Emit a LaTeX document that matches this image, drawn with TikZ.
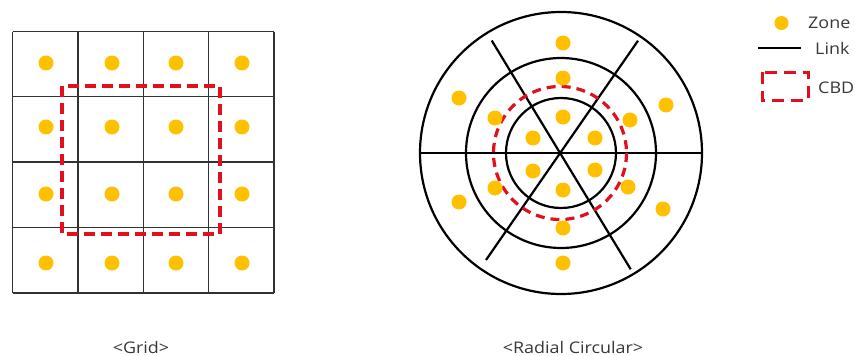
\documentclass[tikz,border=0pt]{standalone}
\usepackage{fontspec}
\setmainfont{Open Sans}[FakeStretch=1.12]
\definecolor{zonec}{RGB}{255,192,0}
\definecolor{cbdc}{RGB}{226,16,30}
\definecolor{gridc}{RGB}{50,50,50}
\definecolor{txtc}{RGB}{55,55,55}
\begin{document}
\begin{tikzpicture}[x=1pt,y=-1pt,
  zone/.style={fill=zonec,draw=none,circle,minimum size=15pt,inner sep=0pt},
  gridline/.style={draw=gridc,line width=1.1pt},
  link/.style={draw=black,line width=2.2pt},
  cbd/.style={draw=cbdc,line width=3.2pt,dash pattern=on 11pt off 6pt},
  lbl/.style={text=txtc,font=\fontsize{16}{18}\selectfont,inner sep=0pt}]
\useasboundingbox (0,0) rectangle (855,356);
% ---- Grid ----
\foreach \x in {12.5,78,143.5,208.5,274}
  \draw[gridline] (\x,31.5) -- (\x,293);
\foreach \y in {31.5,96.5,162,227.5,293}
  \draw[gridline] (12.5,\y) -- (274,\y);
\foreach \x/\i in {46/1,112/2,176/3,242/4}
  \foreach \y/\j in {63/1,127/2,194/3,263/4}
    \node[zone] (g\i\j) at (\x,\y) {};
\draw[cbd] (62,86) rectangle (220,234);
% ---- Radial ----
\coordinate (c) at (561,153);
\draw[link] (c) circle[radius=141];
\draw[link] (c) circle[radius=95];
\draw[link] (c) circle[radius=55];
\draw[link] (420,153) -- (702,153);
\draw[link] (491.7,40.5) -- (630.7,269.3);
\draw[link] (638,40.7) -- (486,260);
\draw[cbd,dash pattern=on 9pt off 6pt] (560,153) circle[radius=66.5];
\foreach \p [count=\k] in {(563,43),(459,98),(459,202),(563,263),(666,105),(663,209),
  (563,78),(495,118),(495,188),(563,228),(630,120),(628,187),
  (563,117),(533,138),(533,171),(563,190),(595,138),(595,170)}
  \node[zone] (r\k) at \p {};
% ---- Legend ----
\node[zone,minimum size=14pt] (lz) at (781.5,23) {};
\node[lbl,anchor=west] (lzt) at (808,23) {Zone};
\coordinate (la) at (758,48);
\coordinate (lb) at (801,48);
\draw[draw=black,line width=1.8pt] (la) -- (lb);
\node[lbl,anchor=west] (llt) at (815,48) {Link};
\draw[cbd,dash pattern=on 12pt off 7pt,line width=3pt] (762,72) rectangle (808,100);
\node[lbl,anchor=west] (lct) at (818,88) {CBD};
% ---- Captions ----
\node[lbl] (cap1) at (141,347) {<Grid>};
\node[lbl] (cap2) at (573,347) {<Radial Circular>};
\end{tikzpicture}
\end{document}
